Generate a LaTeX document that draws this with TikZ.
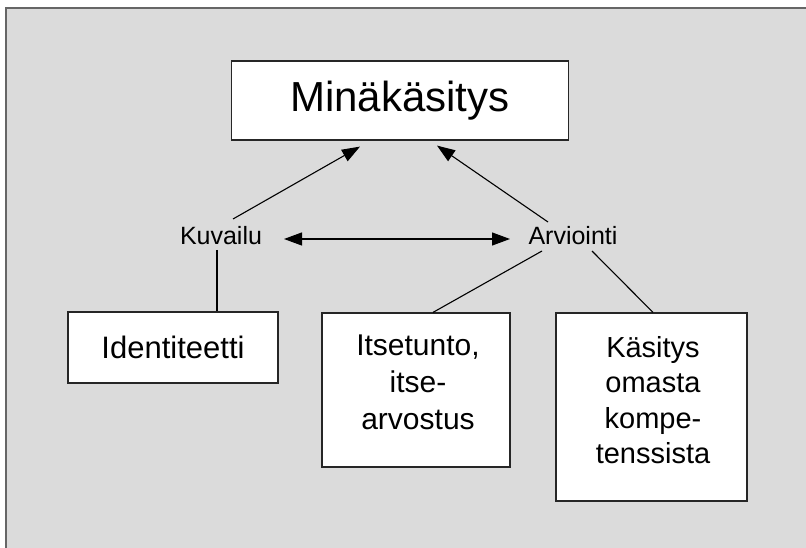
\documentclass[tikz,border=0pt]{standalone}
\usepackage{fontspec}
\setmainfont{Liberation Sans}
\usetikzlibrary{arrows.meta,calc}
\begin{document}
\begin{tikzpicture}[x=1pt,y=-1pt,
  boxst/.style={draw=black!85,line width=1.2pt,fill=white,inner sep=0pt},
  lbl/.style={inner sep=0pt,align=center},
  conn/.style={line width=1.1pt,black},
  arr/.style={conn,-{Triangle[length=18pt,width=13pt]}},
  darr/.style={conn,{Triangle[length=18pt,width=13pt]}-{Triangle[length=18pt,width=13pt]}}]
\useasboundingbox (0,0) rectangle (806,548);
% background
\fill[black!14] (5,7) rectangle (806,548);
\draw[black!60,line width=2pt] (6,548) -- (6,8) -- (806,8);
% nodes
\node[boxst,minimum width=337pt,minimum height=79pt,font=\fontsize{42}{50}\selectfont] (mk) at (400,100.5) {Minäkäsitys};
\node[lbl,font=\fontsize{25}{30}\selectfont,anchor=base] (kuv) at (221,245) {Kuvailu};
\node[lbl,font=\fontsize{25}{30}\selectfont,anchor=base] (arv) at (573,245) {Arviointi};
\node[boxst,minimum width=210pt,minimum height=71pt,font=\fontsize{31}{37}\selectfont] (ide) at (173,347.5) {Identiteetti};
\node[boxst,minimum width=188pt,minimum height=154pt] (its) at (416,390) {};
\node[lbl,font=\fontsize{30}{37}\selectfont] (itsT) at (418,382.5) {Itsetunto,\\itse-\\arvostus};
\node[boxst,minimum width=191pt,minimum height=188pt] (kas) at (651.5,407) {};
\node[lbl,font=\fontsize{29}{35.5}\selectfont] (kasT) at (653,400) {Käsitys\\omasta\\kompe-\\tenssista};
% connectors
\draw[arr] ($(kuv.base)+(12,-26)$) -- ($(mk.south)+(-40,6)$);
\draw[arr] ($(arv.base)+(-25,-23)$) -- ($(mk.south)+(37,5)$);
\draw[darr] ($(kuv.base)+(63,-6)$) -- ($(arv.base)+(-63,-6)$);
\draw[conn] ($(kuv.base)+(-4,5)$) -- (ide.north -| 217,0);
\draw[conn] ($(arv.base)+(-31,6)$) -- ($(its.north)+(17,0)$);
\draw[conn] ($(arv.base)+(19,6)$) -- ($(kas.north)+(1.5,0)$);
\end{tikzpicture}
\end{document}
